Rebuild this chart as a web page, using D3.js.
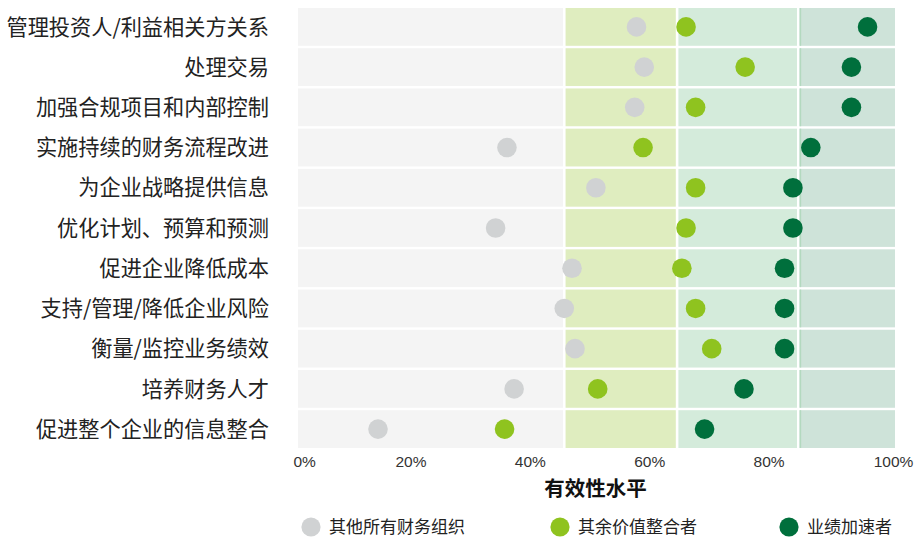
<!DOCTYPE html>
<html>
<head>
<meta charset="utf-8">
<script src="https://cdn.jsdelivr.net/npm/d3@7"></script>
<style>
  html, body { margin: 0; padding: 0; background: #ffffff; }
  svg { display: block; }
</style>
</head>
<body>
<svg id="chart" width="915" height="537"></svg>
<script>
// Capability areas, top to bottom
const categories = [
  "管理投资人/利益相关方关系",
  "处理交易",
  "加强合规项目和内部控制",
  "实施持续的财务流程改进",
  "为企业战略提供信息",
  "优化计划、预算和预测",
  "促进企业降低成本",
  "支持/管理/降低企业风险",
  "衡量/监控业务绩效",
  "培养财务人才",
  "促进整个企业的信息整合"
];

// Effectiveness (%) for each group
const otherOrgs     = [56.7, 58.0, 56.4, 35.0, 49.9, 33.1, 45.9, 44.6, 46.4, 36.2, 13.4];
const valueIntegrators = [65.0, 74.9, 66.6, 57.8, 66.6, 65.0, 64.3, 66.6, 69.3, 50.2, 34.6];
const accelerators  = [95.4, 92.7, 92.7, 85.9, 82.9, 82.9, 81.5, 81.5, 81.5, 74.7, 68.1];

const seriesNames = ["其他所有财务组织", "其余价值整合者", "业绩加速者"];
const seriesColors = ["#d0d2d3", "#8fc31f", "#006f3c"];

// Background zones along the effectiveness axis
const zoneEdges = [0, 44.6, 63.5, 83.8, 100];
const zoneColors = ["#f4f4f4", "#dfedbf", "#d4ebdb", "#cee3d9"];

const tickValues = [0, 20, 40, 60, 80, 100];
const axisTitle = "有效性水平";

const margin = { left: 298, right: 20, top: 8, bottom: 89 };
const W = 915, H = 537;

const svg = d3.select("#chart");

const x = d3.scaleLinear().domain([0, 100]).range([margin.left, W - margin.right]);
const y = d3.scaleBand().domain(categories)
  .range([margin.top, H - margin.bottom])
  .paddingInner(0.06).paddingOuter(0);

// Zone rectangles, one per row and zone
const cells = [];
categories.forEach(c => {
  zoneColors.forEach((col, i) => {
    cells.push({ cat: c, x0: zoneEdges[i], x1: zoneEdges[i + 1], color: col, i });
  });
});
const gap = 1.3;
svg.append("g").selectAll("rect").data(cells).join("rect")
  .attr("x", d => x(d.x0) + (d.i === 0 ? 0 : gap))
  .attr("width", d => x(d.x1) - x(d.x0) - (d.i === 0 ? 0 : gap) - (d.i === zoneColors.length - 1 ? 0 : gap))
  .attr("y", d => y(d.cat))
  .attr("height", y.bandwidth())
  .attr("fill", d => d.color);

// thin accent at the start of the top zone
svg.append("g").selectAll("rect").data(categories).join("rect")
  .attr("x", x(zoneEdges[3]) + gap)
  .attr("width", 1.6)
  .attr("y", d => y(d))
  .attr("height", y.bandwidth())
  .attr("fill", "#b3d9bf");

// Category labels
svg.append("g").selectAll("text").data(categories).join("text")
  .attr("x", 269)
  .attr("y", d => y(d) + y.bandwidth() / 2)
  .attr("dy", "0.36em")
  .attr("text-anchor", "end")
  .attr("font-family", "'Noto Sans CJK SC', 'Noto Sans', sans-serif")
  .attr("font-size", 21.2)
  .attr("fill", "#222")
  .text(d => d);

// Dots
const allSeries = [otherOrgs, valueIntegrators, accelerators];
allSeries.forEach((vals, si) => {
  svg.append("g").selectAll("circle").data(vals).join("circle")
    .attr("cx", d => x(d))
    .attr("cy", (d, i) => y(categories[i]) + y.bandwidth() / 2)
    .attr("r", 9.8)
    .attr("fill", seriesColors[si]);
});

// X axis
const xAxis = d3.axisBottom(x).tickValues(tickValues).tickSize(0).tickPadding(0)
  .tickFormat(d => d + "%");
const gx = svg.append("g")
  .attr("transform", `translate(0, ${H - margin.bottom})`)
  .call(xAxis);
gx.select(".domain").remove();
gx.selectAll("text")
  .attr("y", 8)
  .attr("dx", "-7")
  .attr("font-family", "'Liberation Sans', Arial, sans-serif")
  .attr("font-size", 15.5)
  .attr("fill", "#333");
gx.selectAll(".tick").filter(d => d === 0).select("text")
  .attr("text-anchor", "start").attr("dx", "-5");
gx.selectAll(".tick").filter(d => d === 100).select("text")
  .attr("dx", "-2");

// Axis title
svg.append("text")
  .attr("x", x(50) - 1)
  .attr("y", 496)
  .attr("text-anchor", "middle")
  .attr("font-family", "'Noto Sans CJK SC', sans-serif")
  .attr("font-weight", "bold")
  .attr("font-size", 20.5)
  .attr("fill", "#111")
  .text(axisTitle);

// Legend
const legendX = [311, 560, 789];
const lg = svg.append("g").selectAll("g").data(seriesNames).join("g")
  .attr("transform", (d, i) => `translate(${legendX[i]}, 527)`);
lg.append("circle").attr("r", 9.6).attr("fill", (d, i) => seriesColors[i]);
lg.append("text")
  .attr("x", 18)
  .attr("dy", "0.36em")
  .attr("font-family", "'Noto Sans CJK SC', sans-serif")
  .attr("font-size", 17)
  .attr("fill", "#222")
  .text(d => d);
</script>
</body>
</html>
